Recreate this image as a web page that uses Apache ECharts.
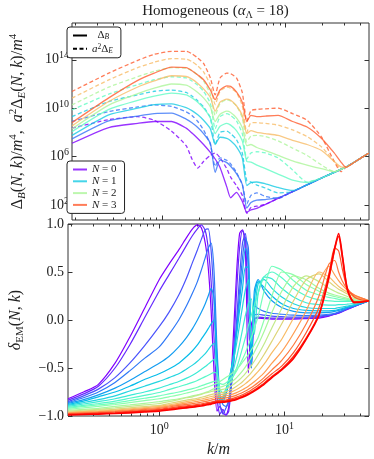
<!DOCTYPE html>
<html>
<head>
<meta charset="utf-8">
<script src="https://cdn.jsdelivr.net/npm/echarts@6/dist/echarts.min.js"></script>
<style>
  html, body { margin: 0; padding: 0; background: #fff; }
  #chart { width: 374px; height: 459px; }
</style>
</head>
<body>
<div id="chart"></div>
<script>
// Both panels share a log k/m axis; values are plotted against log10(k/m).
const FONT = 'Liberation Serif';
const X_MIN = Math.log10(0.187);
const X_MAX = Math.log10(47.4);

// ---- top panel: log10 of Delta_B and a^2 Delta_E ----
const kTop = [0.187, 0.371, 0.637, 0.866, 1.197, 1.570, 1.749, 1.949, 2.171, 2.464, 2.696, 2.951, 3.347, 3.597,
  4.009, 4.467, 4.862, 5.253, 5.853, 6.885, 8.706, 11.41, 14.95, 19.60, 24.77, 28.10, 30.74, 36.83, 47.41];
const topLevels = [0, 0.5, 1, 1.5, 2, 2.5, 3];
const logDeltaB = [
  [7.1, 8.4, 8.75, 8.9, 8.9, 8.35, 7.95, 7.5, 7.0, 6.35, 5.8, 5.1, 3.5, 2.6, 3.05, 2.3, 1.4, 1.6, 1.72, 2.05, 2.55, 3.1, 3.67, 4.23, 4.7, 4.95, 5.12, 5.6, 6.3],
  [7.46, 8.95, 9.35, 9.55, 9.59, 9.1, 8.8, 8.4, 7.9, 7.1, 4.7, 5.7, 5.5, 5.2, 4.6, 3.7, 1.75, 2.2, 2.4, 2.45, 2.6, 3.1, 3.67, 4.23, 4.7, 4.95, 5.12, 5.6, 6.3],
  [7.75, 9.45, 10.0, 10.3, 10.36, 10.05, 9.8, 9.45, 9.0, 8.3, 7.0, 7.6, 7.5, 7.3, 6.8, 5.9, 3.6, 3.85, 3.9, 3.75, 3.45, 3.2, 3.67, 4.23, 4.7, 4.95, 5.12, 5.6, 6.3],
  [8.06, 9.9, 10.65, 11.0, 11.24, 11.1, 10.85, 10.5, 10.0, 9.2, 7.9, 8.5, 8.75, 8.6, 8.15, 7.3, 5.6, 5.55, 5.3, 5.0, 4.55, 4.05, 3.85, 4.23, 4.7, 4.95, 5.12, 5.6, 6.3],
  [8.29, 10.25, 11.2, 11.65, 12.0, 11.9, 11.65, 11.3, 10.85, 10.1, 8.9, 9.5, 9.75, 9.65, 9.2, 8.4, 6.9, 7.0, 6.75, 6.5, 6.1, 5.65, 5.3, 5.0, 4.75, 4.95, 5.12, 5.6, 6.3],
  [8.54, 10.55, 11.75, 12.25, 12.68, 12.62, 12.4, 12.05, 11.6, 10.9, 9.75, 10.5, 10.75, 10.65, 10.2, 9.4, 7.9, 8.15, 8.0, 7.9, 7.75, 7.35, 7.0, 6.5, 5.6, 5.15, 5.12, 5.6, 6.3],
  [8.81, 10.85, 12.3, 12.9, 13.4, 13.35, 13.1, 12.75, 12.35, 11.5, 10.7, 11.5, 11.85, 11.8, 11.35, 10.5, 8.9, 9.4, 9.3, 9.35, 9.4, 8.9, 8.45, 7.5, 6.3, 5.55, 5.12, 5.6, 6.3]
];
const logA2DeltaE = [
  [8.35, 9.05, 9.3, 9.0, 8.1, 6.9, 5.8, 5.05, 5.6, 6.1, 6.3, 5.9, 5.0, 4.3, 3.6, 2.8, 1.3, 1.8, 1.9, 2.05, 2.55, 3.1, 3.67, 4.23, 4.7, 4.95, 5.12, 5.6, 6.3],
  [8.9, 9.72, 10.1, 10.27, 10.15, 9.7, 9.4, 8.9, 8.2, 7.0, 5.2, 5.9, 5.7, 5.4, 4.7, 3.7, 2.1, 2.8, 3.0, 2.7, 2.55, 3.1, 3.67, 4.23, 4.7, 4.95, 5.12, 5.6, 6.3],
  [9.31, 10.55, 11.1, 11.4, 11.5, 11.3, 11.0, 10.6, 10.1, 9.2, 7.0, 8.0, 8.1, 7.9, 7.4, 6.3, 4.0, 3.9, 3.65, 3.4, 3.0, 3.1, 3.67, 4.23, 4.7, 4.95, 5.12, 5.6, 6.3],
  [9.86, 11.16, 11.95, 12.35, 12.6, 12.5, 12.25, 11.9, 11.4, 10.4, 8.3, 9.3, 9.55, 9.4, 8.95, 7.9, 5.8, 6.3, 6.4, 6.3, 5.9, 4.9, 3.9, 4.23, 4.7, 4.95, 5.12, 5.6, 6.3],
  [10.27, 11.74, 12.6, 13.05, 13.35, 13.3, 13.1, 12.75, 12.25, 11.15, 9.4, 10.4, 10.7, 10.6, 10.2, 9.2, 7.2, 7.7, 7.75, 7.65, 7.3, 6.7, 6.1, 5.3, 4.75, 4.95, 5.12, 5.6, 6.3],
  [10.83, 12.34, 13.35, 13.8, 14.1, 14.05, 13.85, 13.5, 13.0, 11.9, 10.3, 11.4, 11.75, 11.65, 11.3, 10.2, 8.0, 8.8, 8.8, 8.75, 8.6, 8.2, 7.65, 6.8, 5.6, 5.0, 5.12, 5.6, 6.3],
  [11.38, 12.9, 13.95, 14.45, 14.7, 14.7, 14.5, 14.15, 13.7, 12.5, 11.1, 12.5, 12.9, 12.85, 12.5, 11.3, 8.9, 9.8, 9.9, 9.95, 10.0, 9.55, 9.0, 7.6, 5.6, 4.75, 5.12, 5.6, 6.3]
];

// ---- bottom panel: delta_EM for a family of N (purple -> red) ----
const kEM = [0.187, 0.249, 0.327, 0.444, 0.582, 0.763, 1.0, 1.197, 1.434, 1.657, 1.846, 2.020, 2.171, 2.334, 2.464,
  2.600, 2.745, 2.897, 3.059, 3.228, 3.408, 3.597, 3.867, 4.156, 4.387, 4.630, 4.888, 5.159, 5.446, 5.749, 6.180,
  6.885, 7.956, 9.524, 11.83, 14.95, 18.90, 22.63, 25.22, 27.11, 29.14, 31.88, 36.16, 41.04, 47.41];
const deltaEM = [
  [-0.82, -0.75, -0.67, -0.45, -0.18, 0.12, 0.42, 0.58, 0.73, 0.86, 0.95, 0.99, 0.96, 0.8, 0.55, 0.1, -0.55, -0.95, -0.9, -0.97, -0.99, -0.9, -0.3, 0.5, 0.9, 0.94, 0.7, -0.55, -0.05, 0.02, 0.02, 0.015, 0.01, 0.01, 0.01, 0.015, 0.02, 0.04, 0.06, 0.07, 0.09, 0.11, 0.14, 0.17, 0.2],
  [-0.835, -0.77, -0.69, -0.5, -0.26, 0.02, 0.3, 0.47, 0.64, 0.78, 0.88, 0.95, 0.99, 0.93, 0.75, 0.4, -0.2, -0.8, -0.98, -0.93, -0.99, -0.95, -0.5, 0.3, 0.75, 0.93, 0.85, 0.0, -0.5, 0.0, 0.03, 0.025, 0.02, 0.02, 0.02, 0.02, 0.03, 0.045, 0.06, 0.075, 0.09, 0.115, 0.14, 0.17, 0.2],
  [-0.85, -0.79, -0.72, -0.6, -0.45, -0.27, -0.07, 0.08, 0.26, 0.44, 0.6, 0.73, 0.84, 0.94, 0.95, 0.72, 0.2, -0.5, -0.88, -0.98, -0.92, -0.85, -0.55, 0.0, 0.45, 0.8, 0.9, 0.5, -0.45, 0.05, 0.06, 0.05, 0.04, 0.035, 0.03, 0.03, 0.04, 0.05, 0.065, 0.08, 0.095, 0.12, 0.145, 0.17, 0.2],
  [-0.86, -0.81, -0.75, -0.65, -0.53, -0.4, -0.28, -0.15, 0.0, 0.15, 0.28, 0.4, 0.52, 0.65, 0.75, 0.8, 0.5, -0.3, -0.78, -0.88, -0.9, -0.82, -0.55, -0.1, 0.3, 0.65, 0.85, 0.75, -0.3, 0.15, 0.12, 0.09, 0.07, 0.06, 0.05, 0.045, 0.05, 0.06, 0.07, 0.085, 0.1, 0.12, 0.145, 0.17, 0.2],
  [-0.87, -0.83, -0.78, -0.71, -0.63, -0.54, -0.45, -0.38, -0.28, -0.18, -0.09, 0.0, 0.08, 0.17, 0.25, 0.33, 0.22, -0.5, -0.86, -0.85, -0.78, -0.66, -0.42, -0.1, 0.2, 0.5, 0.75, 0.6, -0.5, 0.3, 0.42, 0.3, 0.2, 0.13, 0.09, 0.075, 0.075, 0.08, 0.09, 0.1, 0.11, 0.13, 0.15, 0.175, 0.2],
  [-0.88, -0.845, -0.8, -0.75, -0.69, -0.62, -0.56, -0.51, -0.45, -0.38, -0.32, -0.26, -0.2, -0.14, -0.09, -0.04, 0.0, -0.4, -0.84, -0.82, -0.75, -0.63, -0.42, -0.15, 0.1, 0.33, 0.55, 0.55, -0.45, 0.2, 0.4, 0.34, 0.25, 0.17, 0.12, 0.1, 0.095, 0.095, 0.1, 0.11, 0.12, 0.135, 0.155, 0.175, 0.2],
  [-0.89, -0.86, -0.83, -0.79, -0.74, -0.69, -0.64, -0.6, -0.56, -0.51, -0.47, -0.43, -0.39, -0.35, -0.31, -0.27, -0.24, -0.55, -0.86, -0.8, -0.72, -0.62, -0.46, -0.24, -0.05, 0.14, 0.32, 0.42, -0.25, 0.05, 0.38, 0.42, 0.33, 0.24, 0.17, 0.13, 0.12, 0.12, 0.12, 0.13, 0.135, 0.145, 0.16, 0.18, 0.2],
  [-0.9, -0.875, -0.85, -0.82, -0.785, -0.75, -0.71, -0.675, -0.64, -0.605, -0.575, -0.545, -0.515, -0.485, -0.46, -0.435, -0.41, -0.5, -0.82, -0.8, -0.74, -0.66, -0.54, -0.39, -0.25, -0.1, 0.05, 0.17, 0.22, -0.15, 0.28, 0.45, 0.43, 0.33, 0.24, 0.18, 0.16, 0.155, 0.155, 0.16, 0.16, 0.165, 0.175, 0.185, 0.2],
  [-0.91, -0.89, -0.87, -0.845, -0.815, -0.785, -0.755, -0.725, -0.695, -0.67, -0.65, -0.63, -0.61, -0.59, -0.575, -0.56, -0.545, -0.56, -0.72, -0.76, -0.73, -0.68, -0.6, -0.5, -0.4, -0.29, -0.18, -0.06, 0.05, 0.15, 0.28, 0.45, 0.5, 0.44, 0.33, 0.25, 0.21, 0.2, 0.195, 0.195, 0.195, 0.195, 0.195, 0.2, 0.2],
  [-0.92, -0.9, -0.885, -0.865, -0.84, -0.815, -0.79, -0.77, -0.75, -0.73, -0.715, -0.7, -0.685, -0.67, -0.66, -0.65, -0.64, -0.635, -0.66, -0.67, -0.655, -0.63, -0.59, -0.53, -0.47, -0.41, -0.34, -0.26, -0.18, -0.09, 0.04, 0.3, 0.56, 0.52, 0.41, 0.31, 0.26, 0.235, 0.225, 0.215, 0.21, 0.205, 0.2, 0.2, 0.2],
  [-0.93, -0.915, -0.9, -0.88, -0.86, -0.84, -0.82, -0.8, -0.78, -0.76, -0.745, -0.73, -0.72, -0.705, -0.695, -0.685, -0.672, -0.66, -0.64, -0.62, -0.6, -0.58, -0.55, -0.51, -0.48, -0.44, -0.4, -0.36, -0.31, -0.26, -0.18, 0.0, 0.25, 0.5, 0.47, 0.37, 0.3, 0.26, 0.245, 0.235, 0.225, 0.215, 0.205, 0.2, 0.2],
  [-0.94, -0.93, -0.92, -0.9, -0.885, -0.868, -0.85, -0.835, -0.82, -0.805, -0.79, -0.78, -0.77, -0.755, -0.745, -0.73, -0.715, -0.7, -0.698, -0.691, -0.68, -0.664, -0.636, -0.6, -0.567, -0.53, -0.488, -0.442, -0.39, -0.336, -0.256, -0.12, 0.08, 0.3, 0.46, 0.42, 0.33, 0.28, 0.26, 0.25, 0.24, 0.225, 0.21, 0.205, 0.2],
  [-0.95, -0.94, -0.93, -0.915, -0.9, -0.885, -0.87, -0.85, -0.83, -0.81, -0.8, -0.785, -0.775, -0.76, -0.755, -0.745, -0.738, -0.73, -0.728, -0.722, -0.713, -0.7, -0.677, -0.646, -0.62, -0.59, -0.555, -0.517, -0.475, -0.43, -0.362, -0.25, -0.08, 0.12, 0.35, 0.46, 0.4, 0.33, 0.3, 0.28, 0.265, 0.245, 0.225, 0.21, 0.2],
  [-0.96, -0.95, -0.94, -0.93, -0.915, -0.902, -0.89, -0.87, -0.85, -0.835, -0.825, -0.815, -0.805, -0.795, -0.785, -0.778, -0.77, -0.76, -0.758, -0.754, -0.746, -0.735, -0.716, -0.69, -0.668, -0.643, -0.614, -0.582, -0.547, -0.509, -0.454, -0.36, -0.22, -0.04, 0.2, 0.42, 0.48, 0.4, 0.35, 0.32, 0.3, 0.27, 0.24, 0.22, 0.2],
  [-0.965, -0.955, -0.948, -0.938, -0.926, -0.913, -0.9, -0.885, -0.865, -0.85, -0.84, -0.83, -0.823, -0.813, -0.805, -0.797, -0.79, -0.78, -0.779, -0.775, -0.769, -0.76, -0.744, -0.724, -0.706, -0.686, -0.663, -0.638, -0.61, -0.579, -0.535, -0.46, -0.34, -0.2, 0.02, 0.27, 0.5, 0.45, 0.39, 0.35, 0.32, 0.29, 0.25, 0.22, 0.2],
  [-0.97, -0.962, -0.955, -0.946, -0.935, -0.923, -0.91, -0.895, -0.878, -0.865, -0.857, -0.848, -0.84, -0.832, -0.825, -0.818, -0.81, -0.8, -0.799, -0.796, -0.791, -0.784, -0.772, -0.757, -0.743, -0.727, -0.709, -0.689, -0.667, -0.643, -0.608, -0.55, -0.45, -0.33, -0.14, 0.1, 0.4, 0.56, 0.47, 0.41, 0.36, 0.31, 0.26, 0.23, 0.2],
  [-0.975, -0.968, -0.962, -0.953, -0.943, -0.932, -0.92, -0.906, -0.89, -0.879, -0.872, -0.864, -0.857, -0.849, -0.843, -0.836, -0.828, -0.82, -0.819, -0.817, -0.812, -0.806, -0.796, -0.782, -0.769, -0.755, -0.74, -0.722, -0.703, -0.682, -0.651, -0.6, -0.52, -0.42, -0.26, -0.04, 0.25, 0.58, 0.62, 0.5, 0.4, 0.32, 0.26, 0.23, 0.2],
  [-0.98, -0.975, -0.968, -0.96, -0.952, -0.942, -0.93, -0.917, -0.903, -0.893, -0.886, -0.879, -0.873, -0.866, -0.86, -0.854, -0.847, -0.84, -0.839, -0.837, -0.833, -0.827, -0.817, -0.803, -0.792, -0.778, -0.763, -0.747, -0.728, -0.708, -0.679, -0.63, -0.56, -0.48, -0.34, -0.13, 0.13, 0.48, 0.75, 0.72, 0.52, 0.33, 0.24, 0.21, 0.2],
  [-0.985, -0.98, -0.975, -0.968, -0.96, -0.95, -0.94, -0.928, -0.915, -0.905, -0.898, -0.891, -0.885, -0.878, -0.872, -0.866, -0.858, -0.85, -0.849, -0.847, -0.843, -0.838, -0.829, -0.817, -0.806, -0.794, -0.781, -0.766, -0.749, -0.731, -0.704, -0.66, -0.59, -0.51, -0.38, -0.19, 0.06, 0.43, 0.74, 0.87, 0.64, 0.31, 0.19, 0.19, 0.2],
  [-0.99, -0.985, -0.98, -0.974, -0.967, -0.958, -0.95, -0.938, -0.925, -0.915, -0.908, -0.901, -0.895, -0.888, -0.882, -0.876, -0.868, -0.86, -0.859, -0.857, -0.853, -0.848, -0.839, -0.827, -0.816, -0.804, -0.791, -0.776, -0.759, -0.741, -0.714, -0.67, -0.6, -0.52, -0.4, -0.2, 0.05, 0.45, 0.75, 0.9, 0.66, 0.32, 0.18, 0.185, 0.2]
];

// ---- ticks ----
const xMajorK = [1, 10];
const xMinorK = [0.2, 0.3, 0.4, 0.5, 0.6, 0.7, 0.8, 0.9, 2, 3, 4, 5, 6, 7, 8, 9, 20, 30, 40];
const yTopExponents = [2, 6, 10, 14];
const yBottomTicks = [-1, -0.5, 0, 0.5, 1];

// matplotlib 'rainbow' colormap
function rainbow(t) {
  const c = v => Math.round(Math.max(0, Math.min(1, v)) * 255);
  return 'rgb(' + c(Math.abs(2 * t - 0.5)) + ',' + c(Math.sin(Math.PI * t)) + ',' + c(Math.cos(Math.PI * t / 2)) + ')';
}

const INK = '#222';
const nameRich = {
  t: { fontFamily: FONT, fontSize: 16, lineHeight: 20, color: INK },
  i: { fontFamily: FONT, fontSize: 16, lineHeight: 20, fontStyle: 'italic', color: INK },
  sub: { fontFamily: FONT, fontSize: 11, lineHeight: 20, verticalAlign: 'bottom', color: INK },
  subi: { fontFamily: FONT, fontSize: 11, lineHeight: 20, verticalAlign: 'bottom', fontStyle: 'italic', color: INK },
  sup: { fontFamily: FONT, fontSize: 11, lineHeight: 11, verticalAlign: 'top', color: INK }
};
const tickRich = {
  b: { fontFamily: FONT, fontSize: 14, lineHeight: 18, color: INK },
  p: { fontFamily: FONT, fontSize: 10, lineHeight: 10, verticalAlign: 'top', color: INK }
};
const legRich = {
  t: { fontFamily: FONT, fontSize: 11, lineHeight: 12, color: INK },
  i: { fontFamily: FONT, fontSize: 11, lineHeight: 12, fontStyle: 'italic', color: INK },
  sub: { fontFamily: FONT, fontSize: 7.5, lineHeight: 12, verticalAlign: 'bottom', fontStyle: 'italic', color: INK },
  sup: { fontFamily: FONT, fontSize: 7.5, lineHeight: 7.5, verticalAlign: 'top', color: INK }
};

const tickLine = { color: '#333', width: 1 };

// onZero must be off, otherwise the hidden axes sit on the other axis' zero
function xAxisDef(grid, position, kTicks, len, label) {
  return {
    type: 'value', gridIndex: grid, position: position, min: X_MIN, max: X_MAX,
    axisLine: { show: false, onZero: false }, splitLine: { show: false },
    axisTick: { show: true, inside: true, length: len, customValues: kTicks.map(Math.log10), lineStyle: tickLine },
    axisLabel: label || { show: false }
  };
}
function yAxisDef(grid, position, min, max, ticks, label) {
  return {
    type: 'value', gridIndex: grid, position: position, min: min, max: max,
    axisLine: { show: false, onZero: false }, splitLine: { show: false },
    axisTick: { show: true, inside: true, length: 4.5, customValues: ticks, lineStyle: tickLine },
    axisLabel: label || { show: false }
  };
}

const xBottomLabel = {
  show: true, customValues: xMajorK.map(Math.log10), margin: 5,
  formatter: v => '{b|10}{p|' + Math.round(v) + '}', rich: tickRich
};

const xAxes = [
  xAxisDef(0, 'bottom', xMajorK, 4.5),
  xAxisDef(0, 'bottom', xMinorK, 2.5),
  xAxisDef(0, 'top', xMajorK, 4.5),
  xAxisDef(0, 'top', xMinorK, 2.5),
  Object.assign(xAxisDef(1, 'bottom', xMajorK, 4.5, xBottomLabel), {
    name: '{i|k}{t|/}{i|m}', nameLocation: 'middle', nameGap: 24, nameTextStyle: { rich: nameRich }
  }),
  xAxisDef(1, 'bottom', xMinorK, 2.5),
  xAxisDef(1, 'top', xMajorK, 4.5),
  xAxisDef(1, 'top', xMinorK, 2.5)
];

const yAxes = [
  Object.assign(yAxisDef(0, 'left', 0.76, 17.04, yTopExponents, {
    show: true, customValues: yTopExponents, margin: 3,
    formatter: v => '{b|10}{p|' + Math.round(v) + '}', rich: tickRich
  }), {
    name: '{t|Δ}{subi|B}{t|(}{i|N}{t|, }{i|k}{t|)/}{i|m}{sup|4}{t|,  }{i|a}{sup|2}{t|Δ}{subi|E}{t|(}{i|N}{t|, }{i|k}{t|)/}{i|m}{sup|4}',
    nameLocation: 'middle', nameRotate: 90, nameGap: 44, nameTextStyle: { rich: nameRich }
  }),
  yAxisDef(0, 'right', 0.76, 17.04, yTopExponents),
  Object.assign(yAxisDef(1, 'left', -1, 1, yBottomTicks, {
    show: true, customValues: yBottomTicks, margin: 4,
    formatter: v => '{b|' + (v < 0 ? '\u2212' : '') + Math.abs(v).toFixed(1) + '}', rich: tickRich
  }), {
    name: '{i|δ}{sub|EM}{t|(}{i|N}{t|, }{i|k}{t|)}',
    nameLocation: 'middle', nameRotate: 90, nameGap: 42, nameTextStyle: { rich: nameRich }
  }),
  yAxisDef(1, 'right', -1, 1, yBottomTicks)
];

const series = [];
// legend-only entries for the line styles
series.push({ name: 'dB', type: 'line', xAxisIndex: 0, yAxisIndex: 0, data: [], symbol: 'none',
  lineStyle: { color: '#000', width: 1.2 }, itemStyle: { color: '#000' } });
series.push({ name: 'dE', type: 'line', xAxisIndex: 0, yAxisIndex: 0, data: [], symbol: 'none',
  lineStyle: { color: '#000', width: 1.2, type: [4, 2.5] }, itemStyle: { color: '#000' } });

topLevels.forEach((N, i) => {
  const col = rainbow(N / 3.4);
  series.push({
    name: 'E' + N, type: 'line', xAxisIndex: 0, yAxisIndex: 0, symbol: 'none', smooth: 0.2,
    data: kTop.map((k, j) => [Math.log10(k), logA2DeltaE[i][j]]),
    lineStyle: { color: col, width: 1.3, opacity: 0.8, type: [4, 2.5] }, itemStyle: { color: col }, z: 2
  });
  series.push({
    name: 'N=' + N, type: 'line', xAxisIndex: 0, yAxisIndex: 0, symbol: 'none', smooth: 0.2,
    data: kTop.map((k, j) => [Math.log10(k), logDeltaB[i][j]]),
    lineStyle: { color: col, width: 1.3, opacity: 0.8 }, itemStyle: { color: col, opacity: 0.8 }, z: 3
  });
});

deltaEM.forEach((vals, i) => {
  const col = rainbow(i / (deltaEM.length - 1));
  series.push({
    name: 'em' + i, type: 'line', xAxisIndex: 4, yAxisIndex: 2, symbol: 'none', smooth: 0.25,
    data: kEM.map((k, j) => [Math.log10(k), vals[j]]),
    lineStyle: { color: col, width: i >= deltaEM.length - 2 ? 1.6 : 1.2 }, itemStyle: { color: col }
  });
});

const legendCommon = {
  orient: 'vertical', selectedMode: false, itemWidth: 14, itemHeight: 10,
  borderColor: '#222', borderWidth: 1, borderRadius: 3, backgroundColor: '#fff',
  itemStyle: { opacity: 0 },
  textStyle: { fontFamily: FONT, fontSize: 11, color: INK, rich: legRich }
};

const option = {
  animation: false,
  backgroundColor: '#fff',
  grid: [
    { left: 62, top: 23, width: 307, height: 197, show: true, borderColor: '#333', borderWidth: 1, backgroundColor: 'transparent' },
    { left: 62, top: 224, width: 307, height: 196, show: true, borderColor: '#333', borderWidth: 1, backgroundColor: 'transparent' }
  ],
  xAxis: xAxes,
  yAxis: yAxes,
  legend: [
    Object.assign({}, legendCommon, {
      left: 67, top: 27, padding: [3, 8, 3, 5], itemGap: 1.3, data: ['dB', 'dE'],
      formatter: n => n === 'dB' ? '{t|  Δ}{sub|B}' : '{i|a}{sup|2}{t|Δ}{sub|E}'
    }),
    Object.assign({}, legendCommon, {
      left: 67, top: 161, padding: [3, 8, 3, 5], itemGap: 0.8, data: ['N=0', 'N=1', 'N=2', 'N=3'],
      formatter: n => '{i|N}{t| = ' + n.slice(2) + '}'
    })
  ],
  graphic: [{
    type: 'text', x: 215.5, y: 11,
    style: {
      text: '{t|Homogeneous (}{i|α}{sub|Λ}{t| = 18)}', align: 'center', verticalAlign: 'middle',
      rich: {
        t: { fontFamily: FONT, fontSize: 15, lineHeight: 18, fill: INK, color: INK },
        i: { fontFamily: FONT, fontSize: 15, lineHeight: 18, fontStyle: 'italic', fill: INK, color: INK },
        sub: { fontFamily: FONT, fontSize: 10, lineHeight: 18, verticalAlign: 'bottom', fill: INK, color: INK }
      }
    }
  }],
  series: series
};

const chart = echarts.init(document.getElementById('chart'));
chart.setOption(option);
</script>
</body>
</html>
